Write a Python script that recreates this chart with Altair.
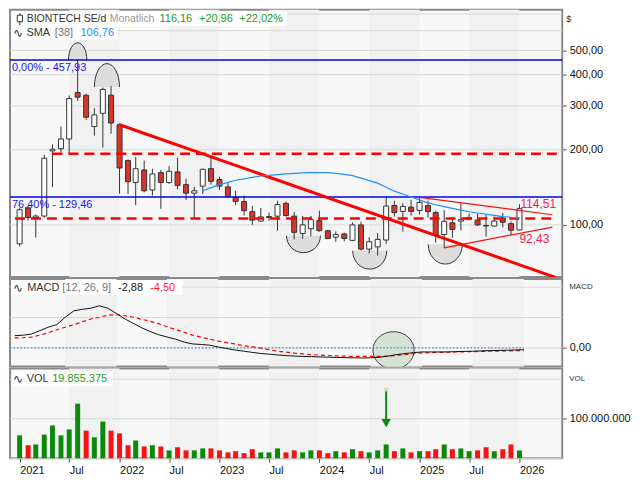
import altair as alt
import pandas as pd

# ---------------- data ----------------
months = pd.date_range("2021-01-01", "2026-01-01", freq="MS").strftime("%Y-%m-%d").tolist()

opens = [84, 117, 107, 108.5, 198, 202, 221, 339, 331, 248, 280, 331,
         252, 181, 148, 166, 138, 162, 148, 163, 145, 134, 143, 168,
         152, 142, 129, 124, 113, 103.6, 107, 108.4, 122, 108.4, 92.3, 96.5,
         104, 94.8, 89.3, 92, 86.7, 100, 80, 81.6, 87, 119.6, 113.3, 117.8,
         114.3, 119.6, 112, 91.5, 102, 103.5, 107, 104.6, 99.5, 99, 106.5, 101.2,
         95.5]
highs = [117, 119, 110, 191, 210, 248, 330, 457.93, 335, 293, 355, 360,
         255, 183, 187, 181, 168, 166, 172, 186, 153, 142, 168, 186,
         156, 147, 137, 131, 119, 117, 112, 125, 124, 112.6, 108.6, 108.6,
         114, 95.5, 94.2, 93, 102.3, 103, 89.3, 92.8, 130, 125, 122, 126,
         129, 125, 114, 114.6, 106.5, 122, 111, 110.6, 109.6, 108, 111.6, 103.3,
         121]
lows = [82, 104, 89, 107, 142, 195, 193, 314, 263, 228, 204, 232,
        133.5, 133, 120, 135, 131, 116, 146, 139, 126, 107, 133, 145,
        138, 128, 120, 109, 100, 103, 104, 94.8, 108, 87.5, 88, 90,
        94, 87.5, 85.6, 86, 86, 79, 76.9, 75.3, 84, 108, 94, 109,
        110, 107, 84.8, 80.9, 88.9, 95, 104.5, 99, 89.7, 98.5, 97.6, 91.1,
        95]
closes = [115, 107, 108.5, 185, 201, 221, 321, 325, 270, 276, 349, 256,
          169, 149, 168, 137, 160, 148, 164, 144, 134, 137, 167, 149.5,
          143, 130, 124, 114, 104.5, 107.7, 108, 120.6, 109, 93.4, 100, 105,
          94.8, 88.2, 91.5, 88.2, 100, 80, 85.6, 87.5, 119, 112, 118.5, 113.3,
          123, 113, 91.3, 103.4, 95.9, 105, 105.3, 100, 99, 103.6, 102.5, 95.2,
          116.16]
volume_mio = [58, 33, 35, 60, 83, 58, 73, 138, 70, 53, 93, 70,
              63, 33, 45, 30, 33, 30, 20, 28, 20, 20, 25, 25,
              20, 15, 18, 13, 23, 15, 15, 25, 15, 20, 15, 20,
              20, 13, 18, 15, 23, 18, 15, 20, 35, 18, 25, 15,
              18, 18, 23, 35, 23, 25, 18, 20, 28, 18, 23, 35,
              19.855375]
vol_up = [1, 0, 1, 1, 1, 1, 1, 1, 0, 1, 1, 0,
          0, 0, 1, 0, 1, 0, 1, 0, 0, 1, 1, 0,
          0, 0, 0, 0, 0, 1, 1, 1, 0, 0, 1, 1,
          0, 0, 1, 0, 1, 0, 1, 1, 1, 0, 1, 0,
          1, 0, 0, 1, 0, 1, 1, 0, 0, 1, 0, 0,
          1]
macd = [20.2, 21, 22.8, 28.4, 34, 38.5, 50.5, 61, 63.6, 65.3, 69.4, 65.3,
        56.6, 47.6, 40.7, 33.3, 27.2, 21.8, 18, 14.4, 9.5, 6.6, 5.7, 4.6,
        1.6, -1.1, -3.3, -5.2, -7.2, -9, -10.2, -11.5, -12.6, -13.4, -13.9, -14.3,
        -14.8, -15.3, -15.6, -15.9, -16.2, -16.6, -16.2, -15.3, -13.4, -11, -9.3, -7.7,
        -6.6, -6.6, -6.6, -6.6, -6.1, -5.7, -5.4, -4.9, -4.4, -4.1, -3.8, -3.4,
        -2.88]
signal = [16.4, 16.9, 17.7, 21, 25, 30, 34, 38.2, 43.1, 47.6, 50.5, 53.8,
          54.6, 53, 50.5, 47.2, 44, 39.9, 34.9, 30, 25.9, 21, 17.7, 14.4,
          11.2, 8.7, 6.6, 3.8, 2.1, -0.3, -2.8, -5.2, -6.9, -8.5, -9.8, -11,
          -11.8, -12.6, -13.1, -13.6, -13.8, -13.9, -13.9, -13.9, -13.6, -12.6, -11, -9.3,
          -8.2, -7.7, -7.2, -7.1, -6.7, -6.4, -6.1, -5.7, -5.4, -5.1, -4.8, -4.4,
          -4.5]
sma_dates = months[22:]
sma38 = [137, 141, 145, 148, 151, 153, 155, 157, 158, 159, 160, 161, 161.5, 162,
         162, 162, 161, 159.5, 157.5, 154, 150.5, 147, 141.5, 136.5, 133, 129.3,
         125.9, 122.6, 120.4, 118.3, 116.4, 114.7, 112.9, 111.6, 110.3, 109.1, 108,
         107.2, 106.76]

fib_levels = [457.93, 129.46]
fib_labels = ["0,00% - 457,93", "76,40% - 129,46"]
support_starts = ["2021-05-01", "2020-12-15"]
support_levels = [193, 106]
trend_dates = ["2022-01-01", "2026-05-15"]
trend_prices = [252, 61.5]
tri_group = ["upper", "upper", "lower", "lower"]
tri_dates = ["2025-01-01", "2026-05-01", "2025-04-01", "2026-05-01"]
tri_prices = [129, 109.8, 80.9, 98]
tri_label_values = [114.51, 92.43]
tri_label_texts = ["114,51", "92,43"]
hump_dates = ["2021-08-01", "2021-11-16", "2023-11-04", "2024-07-03", "2025-04-05"]
hump_prices = [457.93, 357, 90.5, 78.8, 83.5]
macd_mark_date = "2024-09-21"
macd_mark_value = -3.8
arrow_date = "2024-09-01"
price_grid = [100, 200, 300, 400, 500, 600, 700]
price_ticks = [100, 200, 300, 400, 500]

# ---------------- layout ----------------
W = 554
HP, HM, HV = 268, 88, 90
FONT = "Liberation Sans"
RED_BODY = "#D9342A"
GREEN = "#0A8A0A"

xs = alt.Scale(type="utc", nice=False,
               domain=[alt.DateTime(year=2020, month=12, date=15, utc=True),
                       alt.DateTime(year=2026, month=5, date=19, utc=True)])
ys_p = alt.Scale(type="log", domain=[61.9, 728], nice=False)
ys_m = alt.Scale(domain=[-30.7, 113.6], nice=False, zero=False)
ys_v = alt.Scale(domain=[0, 226.7e6], nice=False)

price_axis = alt.Axis(orient="right", values=price_ticks, tickSize=4, labelPadding=3, title=None,
                      labelExpr="replace(format(datum.value, '.2f'), '.', ',')")
macd_axis = alt.Axis(orient="right", values=[0], tickSize=4, labelPadding=3, title=None,
                     labelExpr="replace(format(datum.value, '.2f'), '.', ',')")
vol_axis = alt.Axis(orient="right", values=[100e6], tickSize=4, labelPadding=3, title=None,
                    labelExpr="replace(format(datum.value, ',.0f'), /,/g, '.')")
x_axis = alt.Axis(
    values=[alt.DateTime(year=y, month=m, date=1, utc=True) for y in range(2021, 2026) for m in (1, 7)]
           + [alt.DateTime(year=2026, month=1, date=1, utc=True)],
    labelExpr="utcFormat(datum.value, '%m') == '01' ? utcFormat(datum.value, '%Y') : 'Jul'",
    orient="bottom", tickSize=4, labelAlign="left", labelPadding=2, labelFontSize=11, title=None)


def xenc(field="date", axis=None):
    return alt.X(f"{field}:T", scale=xs, axis=axis, title=None)


def yp(field):
    return alt.Y(f"{field}:Q", scale=ys_p, axis=price_axis, title=None)


def ym(field):
    return alt.Y(f"{field}:Q", scale=ys_m, axis=macd_axis, title=None)


def yv(field):
    return alt.Y(f"{field}:Q", scale=ys_v, axis=vol_axis, title=None)


def txt(s, x, y, color="#333333", size=11, font=FONT, align="left", baseline="middle"):
    return alt.Chart(pd.DataFrame({"t": [s]})).mark_text(
        align=align, baseline=baseline, color=color, fontSize=size, font=font
    ).encode(x=alt.value(x), y=alt.value(y), text="t:N")


def box(x1, x2, y1, y2, fill="#FFFFFF", opacity=0.92, stroke=None):
    kw = dict(fill=fill, opacity=opacity)
    if stroke:
        kw.update(stroke=stroke, strokeWidth=1)
    return alt.Chart(pd.DataFrame({"a": [0]})).mark_rect(**kw).encode(
        x=alt.value(x1), x2=alt.value(x2), y=alt.value(y1), y2=alt.value(y2))


band_df = pd.DataFrame({"start": [f"{y}-07-01" for y in range(2021, 2026)],
                        "end": [f"{y + 1}-01-01" for y in range(2021, 2026)]})


def bands(h, axis=None):
    return alt.Chart(band_df).mark_rect(color="#F1F1F1").encode(
        x=xenc("start", axis), x2="end:T", y=alt.value(0), y2=alt.value(h))


def arch(h, up=True):
    s = -1 if up else 1
    k = 0.5523
    return (f"M-1,0 C-1,{s * k * h:.3f} {-k},{s * h:.3f} 0,{s * h:.3f} "
            f"C{k},{s * h:.3f} 1,{s * k * h:.3f} 1,0")


cdf = pd.DataFrame({"date": months, "open": opens, "high": highs, "low": lows, "close": closes,
                    "vol": [v * 1e6 for v in volume_mio], "macd": macd, "signal": signal})
cdf["body"] = ["#FFFFFF" if c >= o else RED_BODY for o, c in zip(opens, closes)]
cdf["vcol"] = [GREEN if u else "#F51414" for u in vol_up]

# ---------------- price panel ----------------
grid_p = alt.Chart(pd.DataFrame({"level": price_grid})).mark_rule(color="#D8D8D8").encode(y=yp("level"))

hump_style = [(9.2, 1.87, True), (12.6, 1.86, True), (17.0, 1.0, False), (17.1, 1.08, False), (17.1, 1.15, False)]
humps = []
for d, p, (hw, h, up) in zip(hump_dates, hump_prices, hump_style):
    humps.append(alt.Chart(pd.DataFrame({"date": [d], "price": [p]})).mark_point(
        shape=arch(h, up), size=(2 * hw) ** 2, filled=True, fill="#DDDDDD", stroke="#333333",
        strokeWidth=1, opacity=1).encode(x=xenc(), y=yp("price")))

wicks = alt.Chart(cdf).mark_rule(color="#333333", strokeWidth=1).encode(
    x=xenc(), y=yp("low"), y2="high:Q")
bodies = alt.Chart(cdf).mark_bar(size=5, stroke="#333333", strokeWidth=1).encode(
    x=xenc(), y=yp("open"), y2="close:Q", fill=alt.Fill("body:N", scale=None))

fib = alt.Chart(pd.DataFrame({"level": fib_levels, "label": fib_labels}))
fib_lines = fib.mark_rule(color="#0000F0", strokeWidth=1.5).encode(y=yp("level"))
fib_text = fib.mark_text(align="left", baseline="middle", dy=8, color="#1818E8", fontSize=11, font=FONT).encode(
    x=alt.value(2), y=yp("level"), text="label:N")

support = alt.Chart(pd.DataFrame({"start": support_starts, "end": ["2026-05-19"] * 2, "level": support_levels})
                    ).mark_rule(color="#FF0000", strokeWidth=2.5, strokeDash=[10, 6]).encode(
    x=xenc("start"), x2="end:T", y=yp("level"))

trend = alt.Chart(pd.DataFrame({"date": trend_dates, "price": trend_prices})).mark_line(
    color="#FF0000", strokeWidth=3, clip=True).encode(x=xenc(), y=yp("price"))

tri = alt.Chart(pd.DataFrame({"g": tri_group, "date": tri_dates, "price": tri_prices})).mark_line(
    color="#FF1010", strokeWidth=1.2).encode(x=xenc(), y=yp("price"), detail="g:N")

tri_lab_up = alt.Chart(pd.DataFrame({"date": [months[-1]], "v": [tri_label_values[0]], "t": [tri_label_texts[0]]})
                       ).mark_text(align="left", baseline="bottom", dx=1, dy=1, color="#F0244F", fontSize=12, font=FONT
                                   ).encode(x=xenc(), y=yp("v"), text="t:N")
tri_lab_lo = alt.Chart(pd.DataFrame({"date": [months[-1]], "v": [tri_label_values[1]], "t": [tri_label_texts[1]]})
                       ).mark_text(align="left", baseline="top", dx=0, dy=1, color="#F0244F", fontSize=12, font=FONT
                                   ).encode(x=xenc(), y=yp("v"), text="t:N")

sma = alt.Chart(pd.DataFrame({"date": sma_dates, "v": sma38})).mark_line(
    color="#1E90FF", strokeWidth=1.2).encode(x=xenc(), y=yp("v"))

icon_rule = alt.Chart(pd.DataFrame({"a": [0]})).mark_rule(color="#333333").encode(
    x=alt.value(9.9), y=alt.value(3.5), y2=alt.value(15.5))
icon_box = box(7.3, 12.5, 5.5, 12, fill="#FFFFFF", opacity=1, stroke="#333333")

price = alt.layer(
    bands(HP), grid_p, *humps, wicks, bodies, fib_lines, support, tri, trend, sma,
    fib_text, tri_lab_up, tri_lab_lo,
    box(1.7, 278, 1.5, 16.5), box(1, 108, 16.5, 30),
    icon_rule, icon_box,
    txt("BIONTECH SE/d", 16.8, 9.3, size=10.5),
    txt("Monatlich", 100, 9.3, color="#9A9A9A", size=10.5),
    txt("116,16", 150, 9.3, color="#22A022"),
    txt("+20,96", 189.6, 9.3, color="#22A022"),
    txt("+22,02%", 230, 9.3, color="#22A022"),
    txt("\u223f", 3, 23.4, font="DejaVu Sans", size=12),
    txt("SMA", 16.5, 23.4),
    txt("[38]", 45, 23.4, color="#777777"),
    txt("106,76", 70.7, 23.4, color="#1E90FF"),
    txt("$", W + 4, 9, size=9, color="#333333"),
).properties(width=W, height=HP)

# ---------------- MACD panel ----------------
grid_m = alt.Chart(pd.DataFrame({"v": [0, 50, 100]})).mark_rule(color="#D8D8D8").encode(y=ym("v"))
ell_path = ("M-1,0 C-1,-0.497 -0.552,-0.9 0,-0.9 C0.552,-0.9 1,-0.497 1,0 "
            "C1,0.497 0.552,0.9 0,0.9 C-0.552,0.9 -1,0.497 -1,0 Z")
macd_ell = alt.Chart(pd.DataFrame({"date": [macd_mark_date], "v": [macd_mark_value]})).mark_point(
    shape=ell_path, size=41.4 ** 2, filled=True, fill="#D5E2D3", stroke="#444444", strokeWidth=1,
    opacity=1, clip=True).encode(x=xenc(), y=ym("v"))
zero_line = alt.Chart(pd.DataFrame({"start": ["2020-12-15"], "end": [months[-1]], "v": [0]})).mark_rule(
    color="#3D86E0", strokeWidth=1.2, strokeDash=[1.5, 2]).encode(
    x=xenc("start"), x2="end:T", y=ym("v"))
macd_line = alt.Chart(cdf).mark_line(color="#111111", strokeWidth=1).encode(x=xenc(), y=ym("macd"))
sig_line = alt.Chart(cdf).mark_line(color="#FF0000", strokeWidth=1.2, strokeDash=[4, 3]).encode(
    x=xenc(), y=ym("signal"))

macd_panel = alt.layer(
    bands(HM), grid_m, macd_ell, zero_line, sig_line, macd_line,
    box(1, 173, 1, 16),
    txt("\u223f", 3, 9, font="DejaVu Sans", size=12),
    txt("MACD", 17.2, 9),
    txt("[12, 26, 9]", 52.5, 9, color="#777777"),
    txt("-2,88", 108.4, 9, color="#222222"),
    txt("-4,50", 140.6, 9, color="#FF1A1A"),
    txt("MACD", W + 7, 8.5, size=8, color="#333333"),
).properties(width=W, height=HM)

# ---------------- volume panel ----------------
grid_v = alt.Chart(pd.DataFrame({"v": [0, 100e6, 200e6]})).mark_rule(color="#D8D8D8").encode(y=yv("v"))
vol_bars = alt.Chart(cdf).mark_bar(size=5).encode(
    x=xenc(axis=x_axis), y=yv("vol"), color=alt.Color("vcol:N", scale=None))
arrow_df = pd.DataFrame({"date": [arrow_date], "top": [171e6], "bot": [84e6], "head": [89e6], "cap": [174e6]})
arrow = alt.Chart(arrow_df)
arrow_rule = arrow.mark_rule(color=GREEN, strokeWidth=2).encode(
    x=xenc(axis=x_axis), y=yv("top"), y2="bot:Q")
arrow_head = arrow.mark_point(shape="triangle-down", size=90, filled=True, color=GREEN, opacity=1).encode(
    x=xenc(axis=x_axis), y=yv("head"))
arrow_cap = arrow.mark_point(shape="square", size=16, filled=True, color="#D5D5D5", opacity=1).encode(
    x=xenc(axis=x_axis), y=yv("cap"))

vol_panel = alt.layer(
    bands(HV, x_axis), grid_v, vol_bars, arrow_rule, arrow_head, arrow_cap,
    box(2, 103, 3.3, 17.7),
    txt("\u223f", 3, 10, font="DejaVu Sans", size=12),
    txt("VOL", 16.8, 10),
    txt("19.855.375", 42.4, 10, color="#22A022"),
    txt("VOL", W + 7, 10, size=8, color="#333333"),
).properties(width=W, height=HV)

chart = alt.vconcat(price, macd_panel, vol_panel, spacing=0).properties(
    padding=0, background="#FFFFFF"
).configure_view(fill="#F8F8F8", stroke="#8A8A8A", strokeWidth=2).configure_axis(
    labelFont=FONT, labelFontSize=11, labelColor="#111111", tickColor="#555555", domain=False, grid=False
)

chart.save("out.html", embed_options={"renderer": "svg", "actions": False})
